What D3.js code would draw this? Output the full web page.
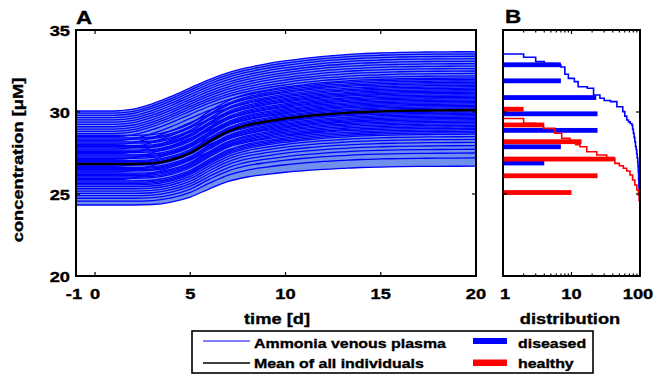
<!DOCTYPE html>
<html>
<head>
<meta charset="utf-8">
<script src="https://cdn.jsdelivr.net/npm/d3@7"></script>
<style>
    body { margin: 0; background: #fff; }
    text { font-family: 'Liberation Sans', Arial, sans-serif; font-weight: bold; fill: #000; stroke: #000; stroke-width: 0.35px; }
</style>
</head>
<body>
<svg id="chart" width="663" height="382"></svg>
<script>
// ---- data ----
const timeDays = [-1, 0, 1, 2, 3, 4, 5, 6, 7, 8, 9, 10, 11, 12, 13, 14, 15, 16, 17, 18, 19, 20];
// mean of all individuals [uM]
const meanConc = [26.83, 26.83, 26.83, 26.83, 26.87, 27.08, 27.5, 28.2, 28.82, 29.2, 29.42, 29.6,
    29.74, 29.85, 29.93, 30.0, 30.04, 30.07, 30.09, 30.1, 30.11, 30.12];
// fraction of the rise reached at each day (early responders / typical)
const profileEarly = [0, 0, 0, 0.03, 0.12, 0.245, 0.39, 0.53, 0.645, 0.73, 0.795, 0.845,
    0.888, 0.922, 0.947, 0.966, 0.978, 0.987, 0.993, 0.996, 0.998, 1];
const profileTypical = [0, 0, 0, 0, 0.012, 0.076, 0.204, 0.416, 0.605, 0.72, 0.787, 0.842,
    0.884, 0.918, 0.942, 0.964, 0.976, 0.985, 0.991, 0.994, 0.997, 1];
// individuals: level before and after the rise, and which profile they follow
const startConc = [30.06, 29.93, 29.8, 29.66, 29.52, 29.38, 29.24, 29.1, 28.96, 28.82, 28.68,
    28.58, 28.5, 28.42, 28.34, 28.26, 28.18, 28.1, 28.02, 27.95, 27.88, 27.81, 27.74, 27.67, 27.6,
    27.53, 27.46, 27.39, 27.32, 27.25, 27.18, 27.11, 27.04, 26.97, 26.9, 26.83, 26.76, 26.69, 26.62,
    26.55, 26.48, 26.41, 26.34, 26.27, 26.2, 26.12, 26.04, 25.96, 25.88, 25.8, 25.72, 25.64, 25.56,
    25.45, 25.32, 25.18, 25.04, 24.9, 24.74, 24.56, 24.33];
const endConc = [33.68, 33.54, 33.4, 33.25, 33.1, 32.95, 32.8, 32.65, 32.5, 32.35, 32.2,
    32.08, 31.99, 31.9, 31.81, 31.72, 31.63, 31.54, 31.45, 31.37, 31.29, 31.21, 31.13, 31.05, 30.97,
    30.89, 30.81, 30.73, 30.65, 30.57, 30.49, 30.41, 30.33, 30.25, 30.17, 30.09, 30.01, 29.93, 29.85,
    29.77, 29.69, 29.61, 29.53, 29.45, 29.37, 29.28, 29.19, 29.1, 29.01, 28.92, 28.83, 28.74, 28.65,
    28.5, 28.33, 28.15, 27.95, 27.73, 27.5, 27.2, 26.7];
const profileOf = ['e', 'e', 'e', 'e', 'e', 'e', 'e', 'e', 'e', 'e', 'e',
    't', 'e', 't', 't', 'e', 't', 't', 'e', 't', 't', 't', 'e', 't', 't',
    't', 'e', 't', 't', 't', 't', 'e', 't', 't', 't', 't', 't', 'e', 't',
    't', 't', 't', 'e', 't', 't', 't', 't', 't', 'e', 't', 't', 't', 't',
    't', 't', 't', 't', 't', 't', 't', 't'];

// panel B histograms (percent of individuals)
const diseasedConc = [32.88, 31.9, 30.88, 29.89, 28.88, 27.88, 26.89];
const diseasedPct = [7, 7, 23, 24, 24, 7, 4];
const healthyConc = [30.17, 29.21, 28.19, 27.13, 26.11, 25.09];
const healthyPct = [2, 4, 14, 43, 24, 10];
// panel B cumulative curves (percent above a given concentration)
const diseasedCumPct = [1, 2, 3, 4, 5.5, 7, 8, 9, 11, 12.5, 17, 21, 26, 30, 37, 46, 56, 60, 64, 68,
    72, 76, 78, 80, 82, 84, 86, 88, 89.5, 91, 92.5, 93.5, 94.5, 95.5, 96.5, 97.5, 98.5, 100, 100];
const diseasedCumConc = [33.54, 33.34, 33.07, 32.95, 32.87, 32.74, 32.3, 32.05, 31.85, 31.54,
    31.45, 31.04, 30.84, 30.7, 30.63, 30.32, 30.02, 29.75, 29.51, 29.4, 29.3, 29.21, 28.95, 28.7,
    28.45, 28.19, 27.9, 27.7, 27.45, 27.2, 26.95, 26.7, 26.3, 25.85, 25.4, 25.0, 24.63, 24.4, 20];
const healthyCumPct = [1, 2, 3, 3.9, 5.7, 7.2, 9.5, 11.5, 13.3, 16.7, 23.4, 32.6, 43, 50, 57, 64,
    71.5, 78, 84, 90, 94.5, 97.5, 100, 100];
const healthyCumConc = [29.6, 29.31, 29.15, 29.0, 28.7, 28.4, 28.19, 28.0, 27.88, 27.58, 27.38,
    27.18, 26.87, 26.72, 26.57, 26.4, 26.16, 25.85, 25.55, 25.25, 24.94, 24.6, 24.23, 20];

const xTicksA = [-1, 0, 5, 10, 15, 20];
const yTicks = [20, 25, 30, 35];
const xTicksB = [1, 10, 100];

// ---- layout ----
const svg = d3.select('#chart');
const stretch = 1.18;
const plotTop = 30, plotBottom = 276;
const yScale = d3.scaleLinear().domain([20, 35]).range([plotBottom, plotTop]);
const xA = d3.scaleLinear().domain([-1, 20]).range([76, 476]);
const xB = d3.scaleLog().domain([1, 100]).range([503, 640]);

function label(x, y, str, size, anchor, rotate) {
    return svg.append('text')
        .attr('transform', 'translate(' + x + ',' + y + ')' + (rotate ? ' rotate(-90)' : '') + ' scale(' + stretch + ',1)')
        .attr('text-anchor', anchor || 'middle')
        .style('font-size', size + 'px')
        .text(str);
}

// ---- panel A ----
let curves = startConc.map(function(s, i) {
    let prof = profileOf[i] === 'e' ? profileEarly : profileTypical;
    return timeDays.map((t, k) => ({t: t, v: s + (endConc[i] - s) * prof[k]}));
});
let line = d3.line()
    .x(d => xA(d.t))
    .y(d => yScale(d.v))
    .curve(d3.curveMonotoneX);
let band = timeDays.map((t, k) => ({
    t: t,
    hi: d3.max(curves, c => c[k].v),
    lo: d3.min(curves, c => c[k].v)
}));
svg.append('path')
    .datum(band)
    .attr('d', d3.area().x(d => xA(d.t)).y0(d => yScale(d.lo)).y1(d => yScale(d.hi)).curve(d3.curveMonotoneX))
    .attr('fill', '#7090ee');
svg.append('g')
    .selectAll('path')
    .data(curves)
    .enter()
    .append('path')
    .attr('d', line)
    .attr('fill', 'none')
    .attr('stroke', '#0000ff')
    .attr('stroke-width', 1.3);
svg.append('path')
    .datum(timeDays.map((t, k) => ({t: t, v: meanConc[k]})))
    .attr('d', line)
    .attr('fill', 'none')
    .attr('stroke', '#000')
    .attr('stroke-width', 2.4);

// ---- panel B ----
const barHalf = 2.4;
svg.append('g')
    .selectAll('rect')
    .data(diseasedConc)
    .enter()
    .append('rect')
    .attr('x', xB(1))
    .attr('y', d => yScale(d) - barHalf)
    .attr('width', (d, i) => xB(diseasedPct[i]) - xB(1))
    .attr('height', barHalf * 2)
    .attr('fill', '#0000ff');
svg.append('g')
    .selectAll('rect')
    .data(healthyConc)
    .enter()
    .append('rect')
    .attr('x', xB(1))
    .attr('y', d => yScale(d) - barHalf)
    .attr('width', (d, i) => xB(healthyPct[i]) - xB(1))
    .attr('height', barHalf * 2)
    .attr('fill', '#ff0000');
let stairs = d3.line()
    .x(d => xB(d[0]))
    .y(d => yScale(d[1]))
    .curve(d3.curveStepAfter);
svg.append('path')
    .datum(diseasedCumPct.map((p, i) => [p, diseasedCumConc[i]]))
    .attr('d', stairs)
    .attr('fill', 'none')
    .attr('stroke', '#0000ff')
    .attr('stroke-width', 1.6);
svg.append('path')
    .datum(healthyCumPct.map((p, i) => [p, healthyCumConc[i]]))
    .attr('d', stairs)
    .attr('fill', 'none')
    .attr('stroke', '#ff0000')
    .attr('stroke-width', 1.6);

// ---- axes and frames ----
function frame(x0, x1) {
    svg.append('rect')
        .attr('x', x0).attr('y', plotTop)
        .attr('width', x1 - x0).attr('height', plotBottom - plotTop)
        .attr('fill', 'none')
        .attr('stroke', '#000')
        .attr('stroke-width', 2);
    let ticks = svg.append('g').attr('stroke', '#000').attr('stroke-width', 1.2);
    yTicks.forEach(function(v) {
        ticks.append('line').attr('x1', x0).attr('x2', x0 + 4).attr('y1', yScale(v)).attr('y2', yScale(v));
        ticks.append('line').attr('x1', x1).attr('x2', x1 - 4).attr('y1', yScale(v)).attr('y2', yScale(v));
    });
    return ticks;
}
let ticksA = frame(xA(-1), xA(20));
xTicksA.forEach(function(t) {
    ticksA.append('line').attr('x1', xA(t)).attr('x2', xA(t)).attr('y1', plotBottom).attr('y2', plotBottom - 4);
    ticksA.append('line').attr('x1', xA(t)).attr('x2', xA(t)).attr('y1', plotTop).attr('y2', plotTop + 4);
    label(xA(t) + (t < 0 ? -2 : 0), 298.5, String(t), 15.5);
});
yTicks.forEach(function(v) {
    label(70, yScale(v) + 5.5, String(v), 15.5, 'end');
});
let ticksB = frame(xB(1), xB(100));
d3.range(2, 10).concat(d3.range(20, 100, 10)).forEach(function(p) {
    ticksB.append('line').attr('x1', xB(p)).attr('x2', xB(p)).attr('y1', plotBottom).attr('y2', plotBottom - 2.5);
    ticksB.append('line').attr('x1', xB(p)).attr('x2', xB(p)).attr('y1', plotTop).attr('y2', plotTop + 2.5);
});
xTicksB.forEach(function(p) {
    ticksB.append('line').attr('x1', xB(p)).attr('x2', xB(p)).attr('y1', plotBottom).attr('y2', plotBottom - 4);
    ticksB.append('line').attr('x1', xB(p)).attr('x2', xB(p)).attr('y1', plotTop).attr('y2', plotTop + 4);
    label(xB(p) + (p === 1 ? 2 : (p === 100 ? -2 : 0)), 298.5, String(p), 15.5);
});

label(277, 323.5, 'time [d]', 15.5);
label(570, 323.5, 'distribution', 15.5);
label(23, 160, 'concentration [\u03bcM]', 15.5, 'middle', true);
label(76, 24, 'A', 19, 'start');
label(505, 23, 'B', 19, 'start');

// ---- legend ----
let legend = svg.append('g');
legend.append('rect')
    .attr('x', 192).attr('y', 331)
    .attr('width', 401).attr('height', 42)
    .attr('fill', '#fff')
    .attr('stroke', '#000')
    .attr('stroke-width', 1.6);
legend.append('line').attr('x1', 203).attr('x2', 250).attr('y1', 341).attr('y2', 341)
    .attr('stroke', '#0000ff').attr('stroke-width', 1.2);
legend.append('line').attr('x1', 203).attr('x2', 250).attr('y1', 363).attr('y2', 363)
    .attr('stroke', '#000').attr('stroke-width', 1.6);
legend.append('rect').attr('x', 473).attr('y', 338).attr('width', 34).attr('height', 6).attr('fill', '#0000ff');
legend.append('rect').attr('x', 473).attr('y', 359.5).attr('width', 34).attr('height', 6.5).attr('fill', '#ff0000');
label(254, 347.5, 'Ammonia venous plasma', 13.5, 'start');
label(254, 368, 'Mean of all individuals', 13.5, 'start');
label(518, 347.5, 'diseased', 13.5, 'start');
label(518, 368, 'healthy', 13.5, 'start');
</script>
</body>
</html>
